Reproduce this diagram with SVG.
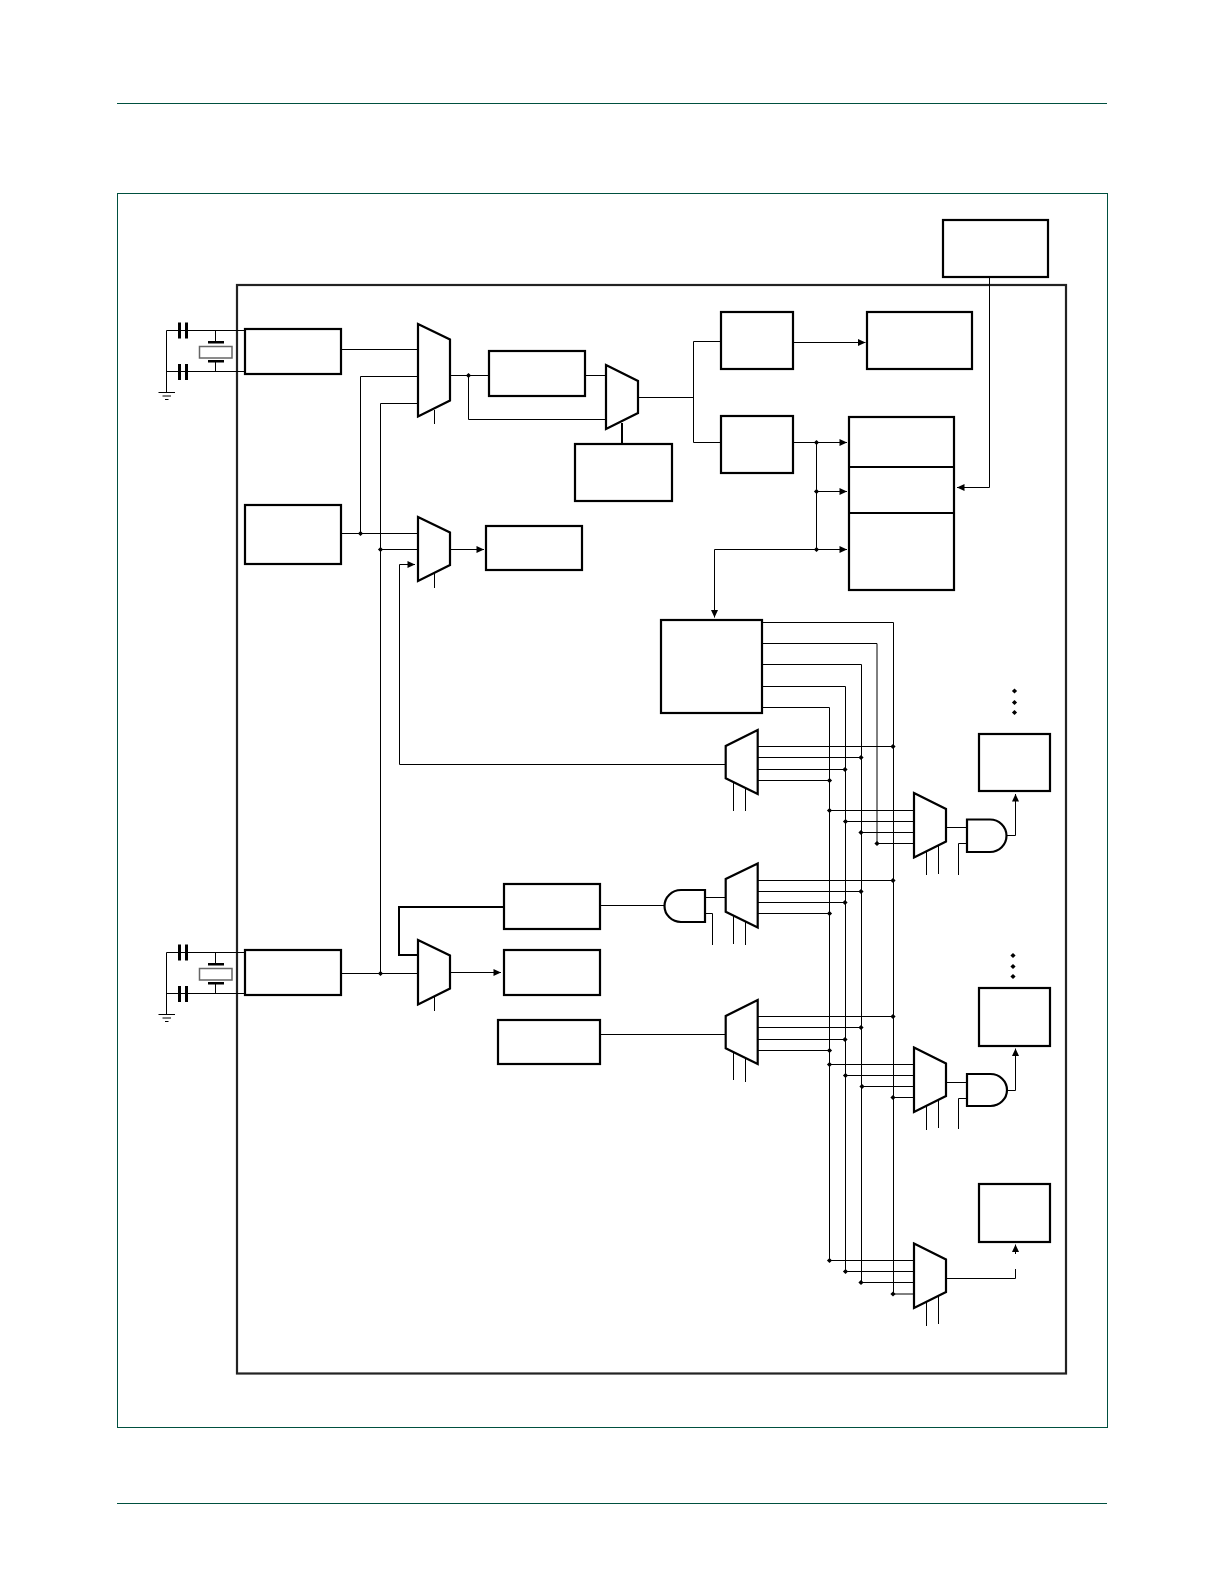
<svg xmlns="http://www.w3.org/2000/svg" width="1225" height="1585" viewBox="0 0 1225 1585">
<style>
.t{fill:none;stroke:#00503f;stroke-width:1}
.o{fill:none;stroke:#222;stroke-width:2.2}
.b,.m{fill:#fff;stroke:#000;stroke-width:2.2}
.w{fill:none;stroke:#000;stroke-width:1}
.k{fill:none;stroke:#000;stroke-width:2}
.a{marker-end:url(#ah)}
.p{fill:#000;stroke:none}
.x{fill:#fff;stroke:#666;stroke-width:1.5}
</style>
<defs>
<marker id="ah" markerUnits="userSpaceOnUse" markerWidth="8" markerHeight="8" refX="8" refY="4" orient="auto"><path d="M0.5,0.5 L8,4 L0.5,7.500 Z" fill="#000"/></marker>
<polygon id="d" points="0,-2.600 2.600,0 0,2.600 -2.600,0" fill="#000"/>
<g id="osc">
<path class="w" d="M244,0.500 H166.500 V62 M166.500,41.500 H244 M215.500,0.500 V11 M215.500,30 V41.500"/>
<rect class="p" x="178" y="-7.500" width="3" height="16"/><rect class="p" x="185" y="-7.500" width="3" height="16"/>
<rect class="p" x="178" y="34" width="3" height="16"/><rect class="p" x="185" y="34" width="3" height="16"/>
<rect class="p" x="208" y="11" width="16" height="2.500"/><rect class="p" x="208" y="30" width="16" height="2.500"/>
<rect class="x" x="199.500" y="16.500" width="32.500" height="11.500"/>
<path class="w" d="M158.500,62.500 H175 M162.500,66 H171 M165,69.500 H168.500"/>
</g>
</defs>

<g id="page">
<path class="t" d="M117,103.500 H1107 M117,1503.500 H1107"/>
<rect class="t" x="117.500" y="193.500" width="990" height="1234"/>
<rect id="chip" class="o" x="237" y="285" width="829" height="1088.500"/>
</g>

<g id="connectors">
<path class="w" d="M341,349.500 H418"/>
<path class="w" d="M418,376.500 H360.500 V533.500"/>
<path class="w" d="M418,403.500 H380.500 V973.500"/>
<path class="w" d="M450,375.500 H489"/>
<path class="w" d="M468.500,375.500 V419.500 H606"/>
<path class="w" d="M585,375.500 H606"/>
<path class="w" d="M638,397.500 H693.500 M721,341.500 H693.500 V442.500 H721"/>
<path class="k" d="M622,423 V443"/>
<path class="w" d="M341,533.500 H418 M380.500,549.500 H418"/>
<path class="w a" d="M399.500,764.500 V564.500 H415"/>
<path class="w a" d="M450,549.500 H484"/>
<path class="w" d="M434.500,410 V424 M434.500,573 V588 M434.500,996 V1011"/>
<path class="w a" d="M793,342.500 H865.500"/>
<path class="w a" d="M793,442.500 H847"/>
<path class="w a" d="M816.500,442.500 V491.500 H847"/>
<path class="w a" d="M816.500,491.500 V549.500 H847"/>
<path class="w a" d="M816.500,549.500 H714.500 V617.500"/>
<path class="w a" d="M989.500,277 V487.500 H957"/>
<path class="w" d="M762,622.500 H893.500 V1294"/>
<path class="w" d="M762,643.500 H877 V843.500"/>
<path class="w" d="M762,664.500 H861.500 V1282.500"/>
<path class="w" d="M762,686.500 H845.500 V1271.500"/>
<path class="w" d="M762,707.500 H829.500 V1260.500"/>
<path class="w" d="M758,746.500 H893.500 M758,757.500 H861.500 M758,769.500 H845.500 M758,780.500 H829.500"/>
<path class="w" d="M725.700,764.500 H399.500"/>
<path class="w" d="M733.500,783 V811 M745.500,789 V811"/>
<path class="w" d="M758,880.500 H893.500 M758,891.500 H861.500 M758,902.500 H845.500 M758,913.500 H829.500"/>
<path class="w" d="M733.500,916 V944 M745.500,922 V945"/>
<path class="w" d="M705,897.500 H725.700 M705,913.500 H712.500 V945"/>
<path class="w" d="M600,905.500 H664.500"/>
<path class="w" d="M758,1016.500 H893.500 M758,1027.500 H861.500 M758,1039.500 H845.500 M758,1050.500 H829.500"/>
<path class="w" d="M600,1034.500 H725.700"/>
<path class="w" d="M733.500,1053 V1080 M745.500,1059 V1082"/>
<path class="w" d="M829.500,810.500 H914 M845.500,821.500 H914 M861.500,832.500 H914 M877,843.500 H914"/>
<path class="w" d="M926.500,852 V875 M938.500,846 V874"/>
<path class="w" d="M946,827.500 H967 M958.500,875 V843.500 H967"/>
<path class="w a" d="M1007,835.500 H1015.500 V794"/>
<path class="w" d="M829.500,1064.500 H914 M845.500,1075.500 H914 M861.500,1086.500 H914 M893.500,1097.500 H914"/>
<path class="w" d="M926.500,1106 V1130 M938.500,1100 V1128"/>
<path class="w" d="M946,1082.500 H967 M958.500,1129 V1098.500 H967"/>
<path class="w a" d="M1007,1090.500 H1015.500 V1048.500"/>
<path class="w" d="M829.500,1260.500 H914 M845.500,1271.500 H914 M861.500,1282.500 H914 M893.500,1294 H914"/>
<path class="w" d="M926.500,1302 V1326 M938.500,1296 V1324"/>
<path class="w" d="M946,1278.500 H1015.500 V1269"/>
<path class="w a" d="M1015.500,1254 V1244.500"/>
<path class="w" d="M341,973.500 H417.500"/>
<path class="k" d="M503.500,907 H399 V955 H417.500"/>
<path class="w a" d="M450,972.500 H501"/>
<use href="#d" x="468.500" y="375.500"/><use href="#d" x="360.500" y="533.500"/><use href="#d" x="380.500" y="549.500"/><use href="#d" x="380.500" y="973.500"/>
<use href="#d" x="816.500" y="442.500"/><use href="#d" x="816.500" y="491.500"/><use href="#d" x="816.500" y="549.500"/>
<use href="#d" x="893" y="746.500"/><use href="#d" x="861" y="757.500"/><use href="#d" x="845" y="769.500"/><use href="#d" x="829.500" y="780.500"/>
<use href="#d" x="893" y="880.500"/><use href="#d" x="861" y="891.500"/><use href="#d" x="845" y="902.500"/><use href="#d" x="829.500" y="913.500"/>
<use href="#d" x="893" y="1016.500"/><use href="#d" x="861" y="1027.500"/><use href="#d" x="845" y="1039.500"/><use href="#d" x="829.500" y="1050.500"/>
<use href="#d" x="829.500" y="810.500"/><use href="#d" x="845.500" y="821.500"/><use href="#d" x="861" y="832.500"/><use href="#d" x="877" y="843.500"/>
<use href="#d" x="829.500" y="1064.500"/><use href="#d" x="845.500" y="1075.500"/><use href="#d" x="862" y="1086.500"/><use href="#d" x="893" y="1097.500"/>
<use href="#d" x="829.500" y="1260.500"/><use href="#d" x="845.500" y="1271.500"/><use href="#d" x="861" y="1282.500"/><use href="#d" x="893" y="1294"/>
<use href="#d" x="1014.500" y="691"/><use href="#d" x="1014.500" y="702.500"/><use href="#d" x="1014.500" y="712.500"/>
<use href="#d" x="1013" y="955.500"/><use href="#d" x="1013" y="966.500"/><use href="#d" x="1013" y="976.500"/>
</g>

<use id="osc-1" href="#osc" y="330"/>
<use id="osc-2" href="#osc" y="952"/>

<g id="box-a"><rect class="b" x="245" y="329" width="96" height="45"/></g>
<g id="box-b"><rect class="b" x="245" y="505" width="96" height="59"/></g>
<g id="box-c"><rect class="b" x="245" y="950" width="96" height="45"/></g>
<g id="box-d"><rect class="b" x="489" y="351" width="96" height="45"/></g>
<g id="box-e"><rect class="b" x="575" y="444" width="97" height="57"/></g>
<g id="box-f"><rect class="b" x="486" y="526" width="96" height="44"/></g>
<g id="box-g"><rect class="b" x="721" y="312" width="72" height="57"/></g>
<g id="box-h"><rect class="b" x="867" y="312" width="105" height="57"/></g>
<g id="box-i"><rect class="b" x="721" y="416" width="72" height="57"/></g>
<g id="box-j"><rect class="b" x="943" y="220" width="105" height="57"/></g>
<g id="stack"><rect class="b" x="849" y="417" width="105" height="173"/><path class="k" d="M849,467 H954 M849,513 H954"/></g>
<g id="box-k"><rect class="b" x="661" y="620" width="101" height="93"/></g>
<g id="box-l"><rect class="b" x="979" y="734" width="71" height="57"/></g>
<g id="box-m"><rect class="b" x="979" y="988" width="71" height="58"/></g>
<g id="box-n"><rect class="b" x="979" y="1184" width="71" height="58"/></g>
<g id="box-o"><rect class="b" x="504" y="884" width="96" height="45"/></g>
<g id="box-p"><rect class="b" x="504" y="950" width="96" height="45"/></g>
<g id="box-q"><rect class="b" x="498" y="1020" width="102" height="44"/></g>

<g id="mux-1"><polygon class="m" points="418,324 450,339.500 450,400.500 418,416.500"/></g>
<g id="mux-2"><polygon class="m" points="606,365 638,381 638,413 606,429"/></g>
<g id="mux-3"><polygon class="m" points="418,517 450,532.500 450,565 418,581"/></g>
<g id="mux-4"><polygon class="m" points="418,940 450,955.500 450,988.500 418,1004.500"/></g>
<g id="mux-5"><polygon class="m" points="757.700,730 725.700,746 725.700,778.300 757.700,794"/></g>
<g id="mux-6"><polygon class="m" points="757.700,863.500 725.700,879 725.700,911.700 757.700,927.500"/></g>
<g id="mux-7"><polygon class="m" points="757.700,1000 725.700,1016 725.700,1048.300 757.700,1064"/></g>
<g id="mux-8"><polygon class="m" points="914,793 946,809 946,841.500 914,857.500"/></g>
<g id="mux-9"><polygon class="m" points="914,1047.500 946,1063.500 946,1096 914,1112"/></g>
<g id="mux-10"><polygon class="m" points="914,1243.500 946,1259.500 946,1292 914,1308"/></g>

<g id="and-1"><path class="m" d="M967,819.500 H990 A16.500,16.250 0 0 1 990,852 H967 Z"/></g>
<g id="and-2"><path class="m" d="M967,1074 H990.500 A16.500,16 0 0 1 990.500,1106 H967 Z"/></g>
<g id="and-3"><path class="m" d="M705,890 H681 A16.500,16 0 0 0 681,922 H705 Z"/></g>
</svg>
